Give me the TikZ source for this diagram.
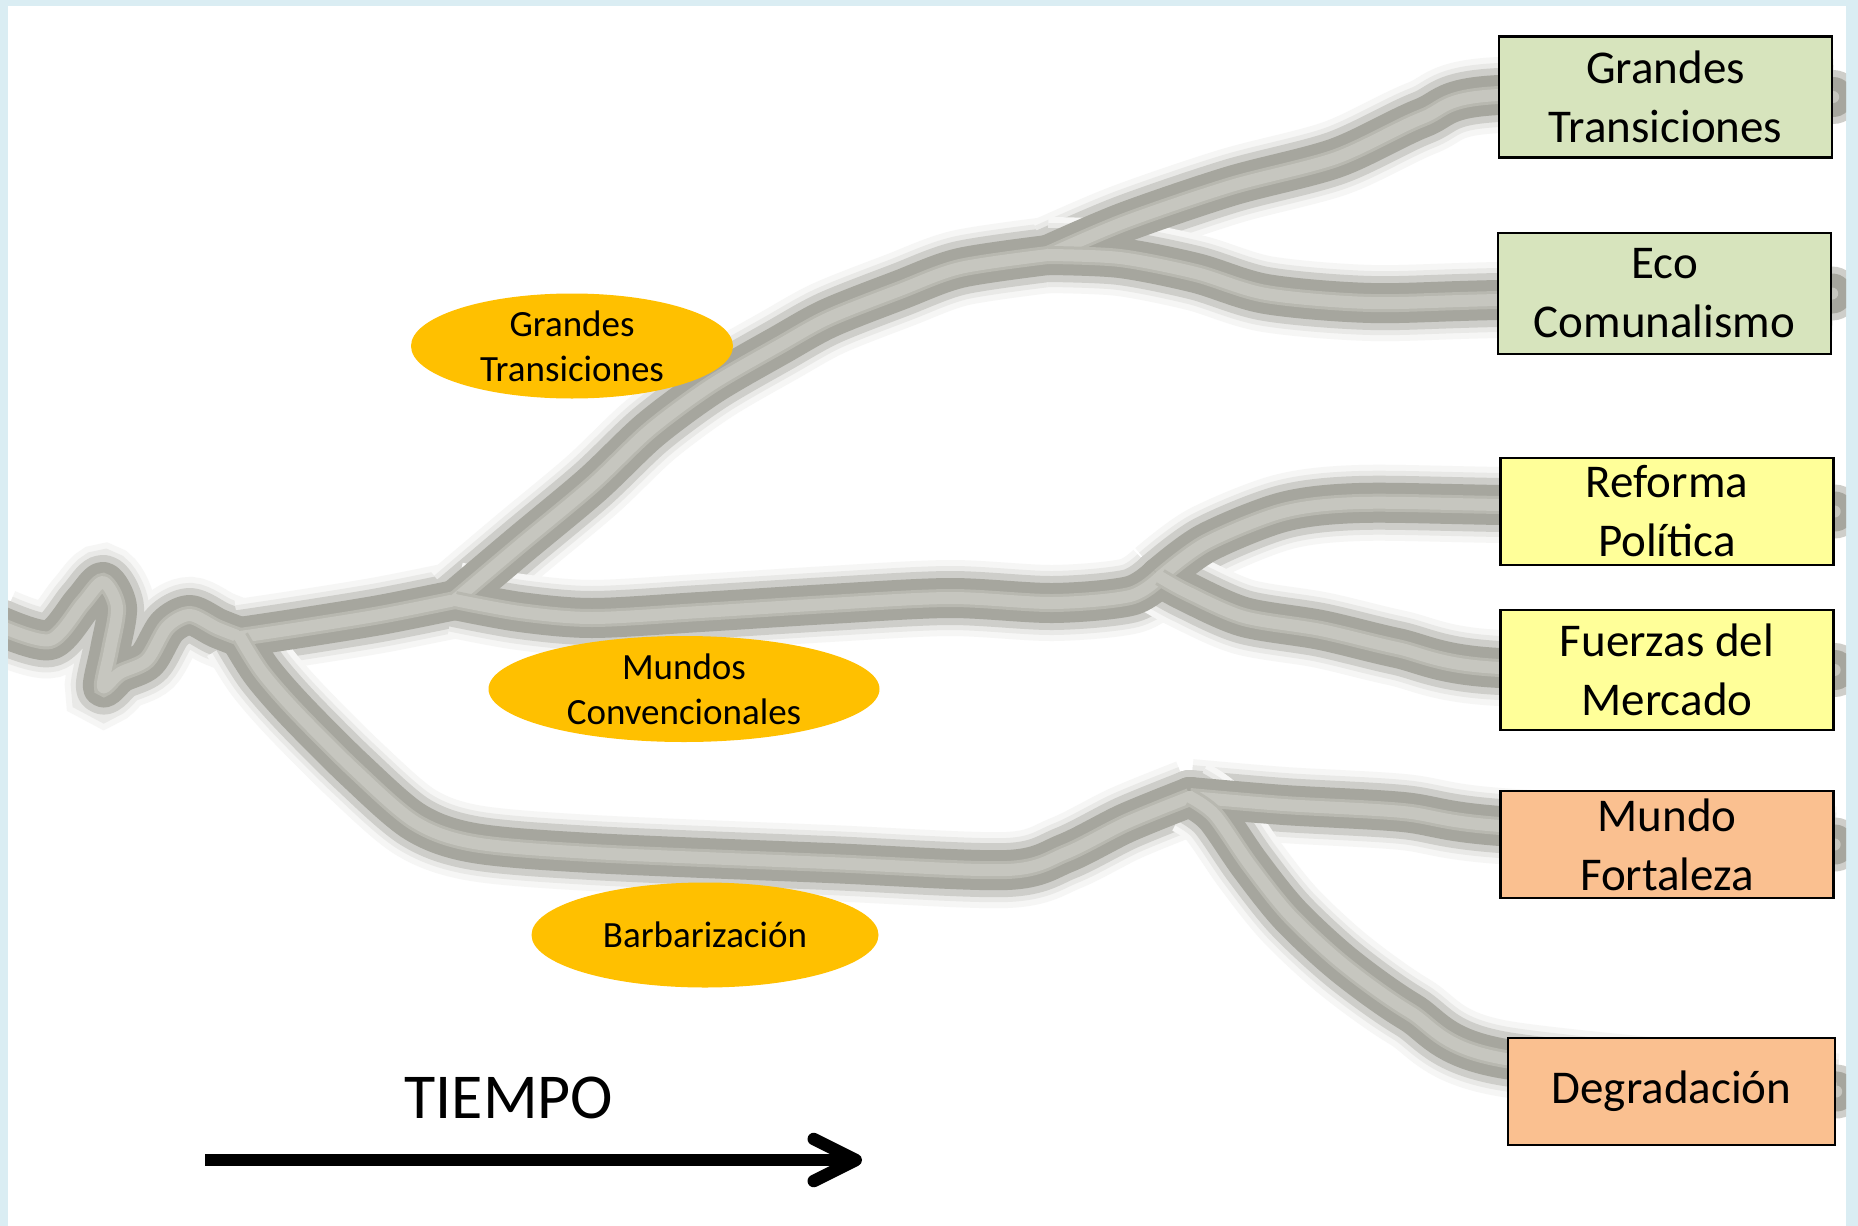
\documentclass[tikz,border=0pt]{standalone}
\usepackage{fontspec}
\setmainfont{Carlito}
\usetikzlibrary{shapes.geometric,arrows.meta}

\definecolor{framecol}{RGB}{218,237,243}
\definecolor{bandgray}{RGB}{166,166,158}
\definecolor{coregray}{RGB}{198,198,191}
\definecolor{greenbox}{RGB}{215,228,189}
\definecolor{yellowbox}{RGB}{255,255,153}
\definecolor{orangebox}{RGB}{250,192,144}
\definecolor{ovalfill}{RGB}{255,192,0}

\pgfdeclarelayer{branches}
\pgfsetlayers{branches,main}

\tikzset{every picture/.style={line width=0.75pt}}
\tikzset{
  blur/.style={draw=bandgray!55!white, line width=27pt, line cap=round, line join=round,
    preaction={draw=bandgray!10!white, line width=38pt},
    preaction={draw=bandgray!25!white, line width=32pt}},
  band/.style={draw=bandgray, line width=20pt, line cap=round, line join=round},
  core/.style={draw=coregray, line width=6pt, line cap=round, line join=round,
    preaction={draw=coregray!55!bandgray, line width=9pt}},
  scenario/.style={draw=black, line width=1.2pt, inner sep=0pt, align=center,
    font=\fontsize{23.5}{29.5}\selectfont},
  oval/.style={ellipse, fill=ovalfill, inner sep=0pt},
  ovaltext/.style={inner sep=0pt, align=center, font=\fontsize{18.5}{22.5}\selectfont},
  timearrow/.style={line width=6.25pt, -{Straight Barb[length=21pt,width=21pt,round]}}
}

\begin{document}
\begin{tikzpicture}[x=0.5pt,y=0.5pt,yscale=-1,xscale=1]
    \useasboundingbox (0,0) rectangle (1858,1226);

    %Shape: Rectangle (scenarios)
    \node[scenario, fill=greenbox, minimum width=166.5pt, minimum height=60.5pt] (gt) at (1665.5,97) {Grandes\\Transiciones};
    \node[scenario, fill=greenbox, minimum width=166.5pt, minimum height=60.5pt] (eco) at (1664.5,293.5) {Eco\\Comunalismo};
    \node[scenario, fill=yellowbox, minimum width=166.5pt, minimum height=53.5pt] (reforma) at (1667,511.5) {Reforma\\Política};
    \node[scenario, fill=yellowbox, minimum width=166.5pt, minimum height=60pt] (fuerzas) at (1667,670) {Fuerzas del\\Mercado};
    \node[scenario, fill=orangebox, minimum width=166.5pt, minimum height=53.5pt] (mf) at (1667,844.5) {Mundo\\Fortaleza};
    \node[scenario, fill=orangebox, minimum width=163.5pt, minimum height=53.5pt] (degr) at (1671.5,1091.5) {Degradación};

    %Shape: Ellipse (families)
    \node[oval, minimum width=161pt, minimum height=52.5pt] (gtoval) at (572,346) {};
    \node[oval, minimum width=195.5pt, minimum height=53pt] (mcoval) at (684,689) {};
    \node[oval, minimum width=173.5pt, minimum height=52.5pt] (baroval) at (705,935) {};
    % Text Node
    \node[ovaltext] at (gtoval) {Grandes\\Transiciones};
    % Text Node
    \node[ovaltext] at (mcoval) {Mundos\\Convencionales};
    % Text Node
    \node[ovaltext] at (baroval) {Barbarización};

    %Straight Lines (time)
    \coordinate (tstart) at (205,1160);
    \coordinate (tend) at (862,1160);
    \draw[timearrow] (tstart) -- (tend);
    % Text Node
    \node[inner sep=0pt, font=\fontsize{32}{38}\selectfont] (tiempo) at (509,1098) {TIEMPO};

    %Curve Lines (branches, behind everything)
    \coordinate (j0) at (240,637);
    \coordinate (j1) at (455,600);
    \coordinate (j2) at (1048,255);
    \coordinate (j4) at (1160,577);
    \coordinate (j3) at (1190,797);
    \begin{pgfonlayer}{branches}
    \fill[framecol] (0,0) rectangle (1858,1226);
    \fill[white] (8,6) rectangle (1846,1226);
    \begin{scope}
    \clip (8,6) rectangle (1846,1226);
    \foreach \lay in {blur,band,core}{
      % trunk
      \draw[\lay] plot[smooth] coordinates {(0,626) (50,640) (83,603) (103,582) (117,607) (110,650) (103,687) (120,673) (147,660) (167,627) (190,615) (217,628) (j0)};
      \draw[\lay] plot[smooth] coordinates {(j0) (300,628) (380,615) (j1)};
      % Grandes Transiciones
      \draw[\lay] plot[smooth] coordinates {(j1) (520,545) (592,485) (650,430) (711,385) (780,345) (829,318) (900,290) (960,268) (j2)};
      \draw[\lay] plot[smooth] coordinates {(j2) (1125,222) (1231,186) (1336,158) (1422,118) (1499,95) (gt.east)};
      \draw[\lay] plot[smooth] coordinates {(j2) (1120,258) (1196,273) (1266,294) (1371,303) (1498,300) (eco.east)};
      % Mundos Convencionales
      \draw[\lay] plot[smooth] coordinates {(j1) (520,612) (592,618) (700,612) (829,604) (950,598) (1053,603) (1130,596) (j4)};
      \draw[\lay] plot[smooth] coordinates {(j4) (1206,543) (1283,512) (1359,503) (1500,505) (reforma.east)};
      \draw[\lay] plot[smooth] coordinates {(j4) (1187,592) (1244,617) (1321,630) (1397,648) (1500,668) (fuerzas.east)};
      % Barbarizacion
      \draw[\lay] plot[smooth] coordinates {(j0) (262,672) (296,711) (355,770) (415,822) (474,843) (592,853) (829,863) (1007,870) (1066,853) (1126,823) (j3)};
      \draw[\lay] plot[smooth] coordinates {(j3) (1284,805) (1403,812) (1500,826) (mf.east)};
      \draw[\lay] plot[smooth] coordinates {(j3) (1215,815) (1250,865) (1290,915) (1344,965) (1410,1012) (1500,1058) (degr.east)};
    }
    \end{scope}
    \end{pgfonlayer}
\end{tikzpicture}
\end{document}
